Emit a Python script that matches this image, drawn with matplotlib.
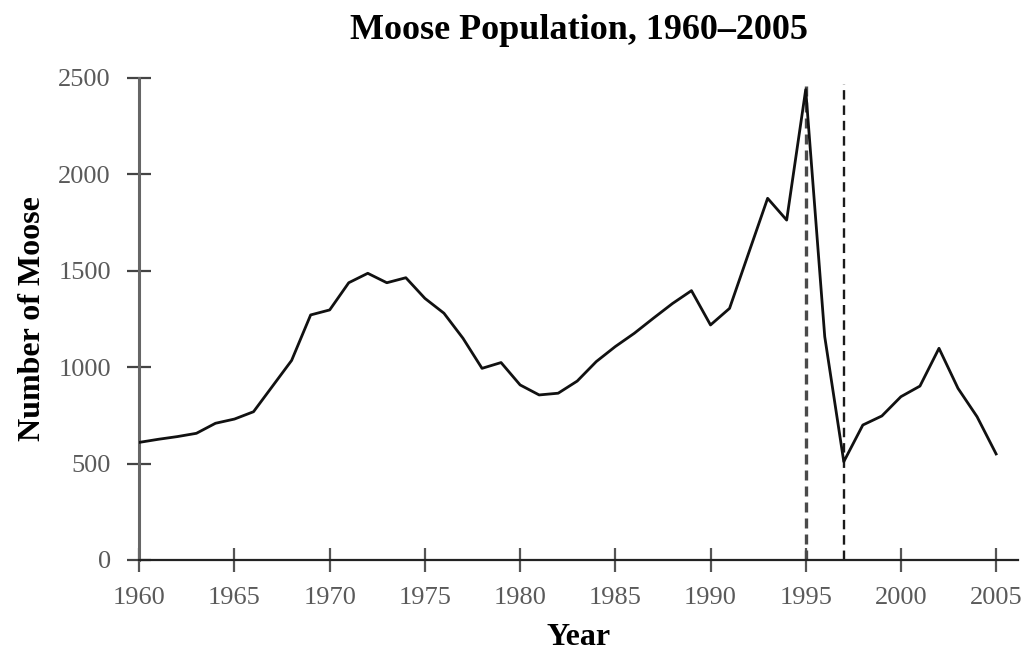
import numpy as np
import matplotlib.pyplot as plt

# 데이터
years = np.arange(1960, 2006)
moose = [610, 626, 640, 657, 709, 731, 769, 902, 1035, 1271,
         1297, 1438, 1487, 1438, 1464, 1357, 1280, 1150, 994, 1024,
         908, 856, 865, 928, 1029, 1107, 1176, 1254, 1330, 1397,
         1219, 1305, 1591, 1876, 1763, 2440, 1158, 510, 700, 747,
         847, 902, 1098, 890, 743, 550]
marked_years = [1995, 1997]
x_ticks = [1960, 1965, 1970, 1975, 1980, 1985, 1990, 1995, 2000, 2005]
y_ticks = [0, 500, 1000, 1500, 2000, 2500]

plt.rcParams['font.family'] = ['Liberation Serif', 'DejaVu Serif']

fig = plt.figure(figsize=(10.31, 6.5), dpi=100)
ax = fig.add_axes([0.1351, 0.1385, 0.8523, 0.7415])

ax.plot(years, moose, color='#111111', linewidth=2.0, zorder=3)
# 점선 (1995 선은 조금 굵고 회색)
ax.plot([marked_years[0]] * 2, [0, 2470], color='#4a4a4a', linewidth=2.4,
        linestyle=(0, (3, 1.8)), zorder=2)
ax.plot([marked_years[1]] * 2, [0, 2470], color='#1a1a1a', linewidth=1.7,
        linestyle=(0, (4, 2.5)), zorder=2)

ax.set_xlim(1960, 2006.15)
ax.set_ylim(0, 2500)
ax.set_xticks(x_ticks)
ax.set_yticks(y_ticks)

for s in ['top', 'right']:
    ax.spines[s].set_visible(False)
ax.spines['left'].set_color('#666666')
ax.spines['left'].set_linewidth(2.2)
ax.spines['bottom'].set_color('#222222')
ax.spines['bottom'].set_linewidth(1.6)

ax.tick_params(axis='y', direction='inout', length=17, width=1.6, color='#444444',
               labelsize=19, labelcolor='#5a5a5a', pad=12)
ax.tick_params(axis='x', direction='inout', length=17, width=1.6, color='#555555',
               labelsize=19, labelcolor='#5a5a5a', pad=11)

ax.set_title('Moose Population, 1960–2005', fontsize=26, fontweight='bold', pad=28)
ax.set_xlabel('Year', fontsize=23, fontweight='bold', labelpad=10)
ax.set_ylabel('Number of Moose', fontsize=23, fontweight='bold', labelpad=8)

fig.savefig('out.png', dpi=100)
